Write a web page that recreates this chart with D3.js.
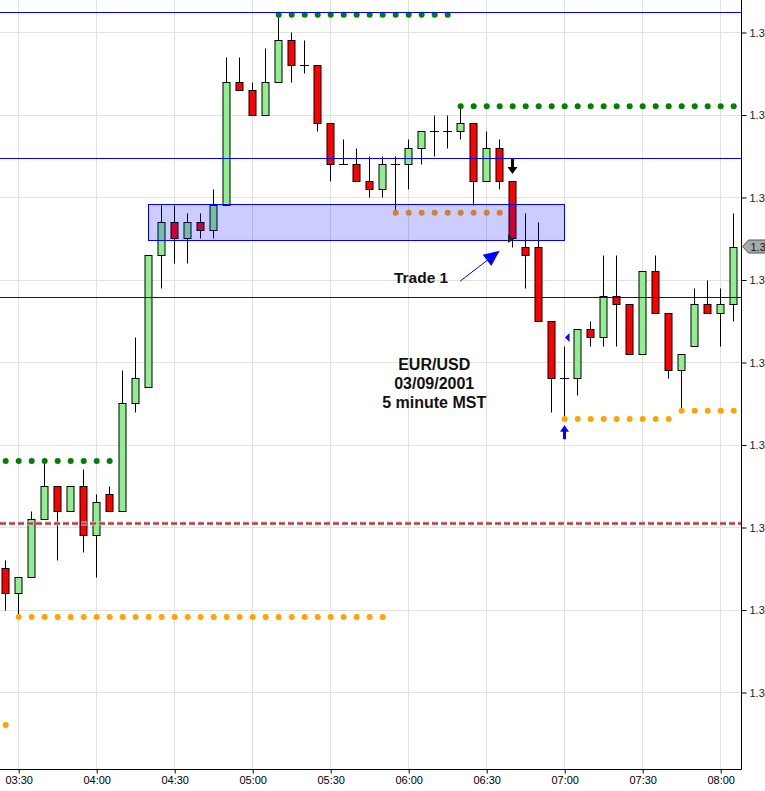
<!DOCTYPE html>
<html><head><meta charset="utf-8">
<script src="https://cdn.jsdelivr.net/npm/d3@7"></script>
<style>
html,body{margin:0;padding:0;background:#fff;overflow:hidden}
svg{display:block;font-family:"Liberation Sans",Arial,sans-serif}
</style></head><body>
<svg id="chart" width="765" height="791"></svg>
<script>
// ---------- DATA ----------
const times = ["03:25","03:30","03:35","03:40","03:45","03:50","03:55","04:00","04:05","04:10","04:15","04:20","04:25","04:30","04:35","04:40","04:45","04:50","04:55","05:00","05:05","05:10","05:15","05:20","05:25","05:30","05:35","05:40","05:45","05:50","05:55","06:00","06:05","06:10","06:15","06:20","06:25","06:30","06:35","06:40","06:45","06:50","06:55","07:00","07:05","07:10","07:15","07:20","07:25","07:30","07:35","07:40","07:45","07:50","07:55","08:00","08:05"];
const opens  = [1.3015,1.3012,1.3014,1.3021,1.3025,1.3022,1.3025,1.3019,1.3024,1.3022,1.3035,1.3037,1.3053,1.3057,1.3055,1.3057,1.3056,1.3059,1.3074,1.3073,1.3070,1.3074,1.3079,1.3076,1.3076,1.3069,1.3064,1.3064,1.3062,1.3061,1.3064,1.3064,1.3066,1.3068,1.3068,1.3068,1.3069,1.3062,1.3066,1.3062,1.3054,1.3054,1.3045,1.3038,1.3038,1.3044,1.3043,1.3048,1.3047,1.3041,1.3051,1.3046,1.3039,1.3042,1.3047,1.3046,1.3047];
const highs  = [1.3016,1.3014,1.3022,1.3028,1.3025,1.3025,1.3027,1.3024,1.3025,1.3039,1.3043,1.3053,1.3059,1.3059,1.3058,1.3058,1.3061,1.3077,1.3077,1.3074,1.3078,1.3082,1.3080,1.3079,1.3076,1.3069,1.3067,1.3066,1.3065,1.3065,1.3065,1.3067,1.3068,1.3070,1.3070,1.3071,1.3069,1.3068,1.3067,1.3062,1.3058,1.3057,1.3045,1.3042,1.3044,1.3045,1.3053,1.3053,1.3047,1.3051,1.3053,1.3046,1.3041,1.3049,1.3050,1.3049,1.3058];
const lows   = [1.3010,1.30093,1.3014,1.3021,1.3016,1.3022,1.3017,1.3014,1.3022,1.3022,1.3034,1.3037,1.3049,1.3052,1.3052,1.3055,1.3055,1.3059,1.3073,1.3070,1.3070,1.3074,1.3074,1.3075,1.3068,1.3062,1.3064,1.3062,1.3060,1.3060,1.3058,1.3061,1.3064,1.3065,1.3066,1.3067,1.3059,1.3062,1.3061,1.3054,1.3049,1.3045,1.3034,1.3033,1.3036,1.3042,1.3042,1.3042,1.3041,1.3041,1.3046,1.3038,1.3034,1.3042,1.3046,1.3042,1.3045];
const closes = [1.3012,1.3014,1.3021,1.3025,1.3022,1.3025,1.3019,1.3023,1.3022,1.3035,1.3038,1.3053,1.3057,1.3055,1.3057,1.3056,1.3059,1.3074,1.3073,1.3070,1.3074,1.3079,1.3076,1.3076,1.3069,1.3064,1.3064,1.3062,1.3061,1.3064,1.3064,1.3066,1.3068,1.3068,1.3068,1.3069,1.3062,1.3066,1.3062,1.3055,1.3053,1.3045,1.3038,1.3038,1.3044,1.3043,1.3048,1.3047,1.3041,1.3051,1.3046,1.3039,1.3041,1.3047,1.3046,1.3047,1.3054];

const priceTicks = [1.3000,1.3010,1.3020,1.3030,1.3040,1.3050,1.3060,1.3070,1.3080];
const timeTicks  = ["03:30","04:00","04:30","05:00","05:30","06:00","06:30","07:00","07:30","08:00"];

// horizontal levels
const blueLevels = [1.30824,1.30647,1.30479];
const redDashedLevel = 1.30205;

// dotted resistance (green) and support (orange) runs
const resistPrice = [1.30280,1.30821,1.30710];
const resistStart = ["03:25","05:10","06:20"];
const resistEnd   = ["04:05","06:15","08:05"];
const supportPrice = [1.29960,1.30091,1.30581,1.30331,1.30341];
const supportStart = ["03:25","03:30","05:55","07:00","07:45"];
const supportEnd   = ["03:25","05:50","06:35","07:40","08:05"];

// consolidation zone
const zoneTime  = ["04:20","07:00"];
const zonePrice = [1.305475,1.30592];

const infoLines  = ["EUR/USD","03/09/2001","5 minute MST"];
const tradeLabel = "Trade 1";

// ---------- SCALES ----------
const W = 765, H = 791, plotR = 741, plotB = 769;
const parse = d3.timeParse("%H:%M");
const x = d3.scaleTime().domain([parse("03:23"), parse("08:08")]).range([0, plotR]);
const y = d3.scaleLinear().domain([1.3000, 1.3080]).range([692, 32]);
const px = t => Math.round(x(parse(t))) + 0.5;
const py = v => Math.round(y(v)) + 0.5;

const svg = d3.select("#chart");
svg.append("rect").attr("width", W).attr("height", H).attr("fill", "#fff");

// ---------- GRID ----------
const grid = svg.append("g");
grid.selectAll("line.gx").data(timeTicks).join("line")
  .attr("x1", d => px(d)).attr("x2", d => px(d)).attr("y1", 0).attr("y2", plotB)
  .attr("stroke", "#e1e1e1").attr("stroke-width", 1);
grid.selectAll("line.gy").data(priceTicks).join("line")
  .attr("x1", 0).attr("x2", plotR).attr("y1", d => py(d)).attr("y2", d => py(d))
  .attr("stroke", "#e1e1e1").attr("stroke-width", 1);

// ---------- CANDLES ----------
const candles = times.map((t, i) => ({t, o: opens[i], h: highs[i], l: lows[i], c: closes[i]}));
const cg = svg.append("g");
cg.selectAll("line.wick").data(candles).join("line")
  .attr("x1", d => px(d.t)).attr("x2", d => px(d.t))
  .attr("y1", d => py(d.h)).attr("y2", d => py(d.l))
  .attr("stroke", "#000").attr("stroke-width", 1);
cg.selectAll("rect.body").data(candles.filter(d => d.o !== d.c)).join("rect")
  .attr("x", d => px(d.t) - 3.5)
  .attr("width", 7)
  .attr("y", d => py(Math.max(d.o, d.c)))
  .attr("height", d => Math.max(1, py(Math.min(d.o, d.c)) - py(Math.max(d.o, d.c))))
  .attr("fill", d => d.c > d.o ? "#90EE90" : "#FF0000")
  .attr("stroke", "#000").attr("stroke-width", 1);
cg.selectAll("line.doji").data(candles.filter(d => d.o === d.c)).join("line")
  .attr("x1", d => px(d.t) - 4.5).attr("x2", d => px(d.t) + 4.5)
  .attr("y1", d => py(d.c)).attr("y2", d => py(d.c))
  .attr("stroke", "#000").attr("stroke-width", 1);

// ---------- DOTTED LEVELS ----------
function dotRun(price, t0, t1, color) {
  const i0 = times.indexOf(t0), i1 = times.indexOf(t1);
  const pts = times.slice(i0, i1 + 1);
  svg.append("g").selectAll("circle").data(pts).join("circle")
    .attr("cx", d => x(parse(d)) + 0.5).attr("cy", y(price))
    .attr("r", 3).attr("fill", color);
}
resistPrice.forEach((p, i) => dotRun(p, resistStart[i], resistEnd[i], "#008000"));
supportPrice.forEach((p, i) => dotRun(p, supportStart[i], supportEnd[i], "#FFA500"));

// ---------- ZONE ----------
svg.append("rect")
  .attr("x", px(zoneTime[0])).attr("y", py(zonePrice[1]))
  .attr("width", px(zoneTime[1]) - px(zoneTime[0]))
  .attr("height", py(zonePrice[0]) - py(zonePrice[1]))
  .attr("fill", "rgba(0,0,255,0.2)").attr("stroke", "#0000FF").attr("stroke-width", 1);

// ---------- HORIZONTAL LINES ----------
svg.append("g").selectAll("line").data(blueLevels).join("line")
  .attr("x1", 0).attr("x2", plotR).attr("y1", d => py(d)).attr("y2", d => py(d))
  .attr("stroke", "#0000FF").attr("stroke-width", 1);
svg.append("line").attr("x1", 0).attr("x2", plotR)
  .attr("y1", py(redDashedLevel)).attr("y2", py(redDashedLevel))
  .attr("stroke", "#e9b7b7").attr("stroke-width", 4).attr("stroke-dasharray", "6,3");
svg.append("line").attr("x1", 0).attr("x2", plotR)
  .attr("y1", py(redDashedLevel)).attr("y2", py(redDashedLevel))
  .attr("stroke", "#a83a3a").attr("stroke-width", 2).attr("stroke-dasharray", "6,3");

// ---------- ANNOTATIONS ----------
const iEntry = times.indexOf("06:40");
{
  const cx = px("06:40"), tipY = y(highs[iEntry]) - 6.5;
  svg.append("rect").attr("x", cx - 1.5).attr("y", tipY - 15).attr("width", 3).attr("height", 9).attr("fill", "#000");
  svg.append("path").attr("d", `M${cx-5},${tipY-7}L${cx+5},${tipY-7}L${cx},${tipY}Z`).attr("fill", "#000");
  const ey = y(closes[iEntry]);
  svg.append("path").attr("d", `M${cx-4.5},${ey-4.5}L${cx-4.5},${ey+4.5}L${cx+1.5},${ey+1.5}Z`).attr("fill", "#222");
}
{
  const tail = [x(parse("06:20")), y(1.30498)];
  const tip = [x(parse("06:35")) + 0.5, y(1.30535)];
  const dx = tip[0] - tail[0], dy = tip[1] - tail[1], len = Math.hypot(dx, dy);
  const ux = dx / len, uy = dy / len, L = 16, Wd = 7;
  const bx = tip[0] - ux * L, by = tip[1] - uy * L;
  svg.append("line").attr("x1", tail[0]).attr("y1", tail[1]).attr("x2", bx + ux * 2).attr("y2", by + uy * 2)
    .attr("stroke", "#0000FF").attr("stroke-width", 1);
  svg.append("path").attr("d", `M${tip[0]},${tip[1]}L${bx - uy * Wd},${by + ux * Wd}L${bx + uy * Wd},${by - ux * Wd}Z`)
    .attr("fill", "#0000FF");
  svg.append("text").attr("x", tail[0] - 12).attr("y", tail[1] + 2)
    .attr("text-anchor", "end").attr("font-size", "15.5px").attr("font-weight", "bold").attr("fill", "#111")
    .text(tradeLabel);
}
svg.append("g").selectAll("text").data(infoLines).join("text")
  .attr("x", x(parse("06:10"))).attr("y", (d, i) => y(1.3039) + i * 18.7)
  .attr("text-anchor", "middle").attr("font-size", "16px").attr("font-weight", "bold").attr("fill", "#111")
  .text(d => d);
{
  const i = times.indexOf("07:00"), cx = px("07:00");
  const tipY = y(lows[i]) + 5.5;
  svg.append("path").attr("d", `M${cx},${tipY}L${cx+4.5},${tipY+6.5}L${cx-4.5},${tipY+6.5}Z`).attr("fill", "#0000FF");
  svg.append("rect").attr("x", cx - 1.5).attr("y", tipY + 5.5).attr("width", 3).attr("height", 8.5).attr("fill", "#0000FF");
  const ty = y(highs[i]) - 8;
  svg.append("path").attr("d", `M${cx+0.5},${ty}L${cx+5},${ty-4.5}L${cx+5},${ty+4.5}Z`).attr("fill", "#0000FF");
}

// ---------- AXES ----------
svg.append("line").attr("x1", plotR + 0.5).attr("x2", plotR + 0.5).attr("y1", 0).attr("y2", plotB + 0.5)
  .attr("stroke", "#000").attr("stroke-width", 1);
svg.append("line").attr("x1", 0).attr("x2", plotR + 0.5).attr("y1", plotB + 0.5).attr("y2", plotB + 0.5)
  .attr("stroke", "#000").attr("stroke-width", 1);

const yAxis = d3.axisRight(y).tickValues(priceTicks).tickFormat(d3.format(".4f")).tickSize(5).tickPadding(3);
const ya = svg.append("g").attr("transform", `translate(${plotR + 0.5},0.5)`).call(yAxis);
ya.select(".domain").remove();
ya.selectAll("text").attr("font-size", "11px").attr("font-family", "Liberation Sans, Arial, sans-serif").attr("fill", "#1a1a2a");

const xAxis = d3.axisBottom(x).tickValues(timeTicks.map(parse)).tickFormat(d3.timeFormat("%H:%M")).tickSize(4).tickPadding(3);
const xa = svg.append("g").attr("transform", `translate(0.5,${plotB + 0.5})`).call(xAxis);
xa.select(".domain").remove();
xa.selectAll("text").attr("font-size", "11px").attr("font-family", "Liberation Sans, Arial, sans-serif").attr("fill", "#000");

{
  const last = closes[closes.length - 1], ly = y(last);
  svg.append("path")
    .attr("d", `M${plotR + 1.5},${ly}L${plotR + 7.5},${ly - 6.5}L${W + 5},${ly - 6.5}L${W + 5},${ly + 6.5}L${plotR + 7.5},${ly + 6.5}Z`)
    .attr("fill", "#a9a9a9").attr("stroke", "#555").attr("stroke-width", 1);
  svg.append("text").attr("x", plotR + 9.5).attr("y", ly + 4)
    .attr("font-size", "11px").attr("fill", "#111").text(d3.format(".4f")(last));
}
</script>
</body></html>
